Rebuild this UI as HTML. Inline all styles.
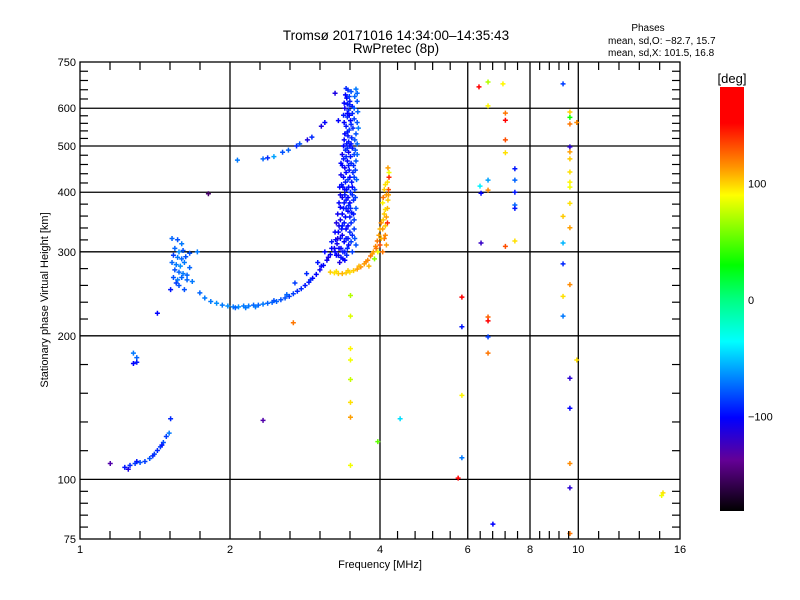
<!DOCTYPE html>
<html><head><meta charset="utf-8"><style>
html,body{margin:0;padding:0;background:#fff;}
svg{display:block;font-family:"Liberation Sans",sans-serif;}
</style></head><body>
<svg id="chart" width="800" height="600" viewBox="0 0 800 600" xmlns="http://www.w3.org/2000/svg">
<rect width="800" height="600" fill="#fff"/>
<text x="396" y="40" font-size="13.5" text-anchor="middle">Tromsø 20171016 14:34:00–14:35:43</text>
<text x="396" y="53" font-size="13.5" text-anchor="middle">RwPretec (8p)</text>
<text x="648" y="31" font-size="10" text-anchor="middle">Phases</text>
<text x="608" y="44" font-size="10">mean, sd,O: −82.7, 15.7</text>
<text x="608" y="56" font-size="10">mean, sd,X: 101.5, 16.8</text>
<g id="grid"></g>
<g id="marks"></g>
<rect x="80" y="62" width="600" height="477" fill="none" stroke="#000" stroke-width="1.3"/>
<g id="axes"></g>
<text x="380" y="568" font-size="11" text-anchor="middle">Frequency [MHz]</text>
<text x="0" y="0" font-size="11" text-anchor="middle" transform="translate(48,300) rotate(-90)">Stationary phase Virtual Height [km]</text>
<defs><linearGradient id="cbg" x1="0" y1="1" x2="0" y2="0">
<stop offset="0" stop-color="#000"/><stop offset="0.12" stop-color="#640096"/><stop offset="0.22" stop-color="#0000ff"/><stop offset="0.40" stop-color="#00ffff"/><stop offset="0.50" stop-color="#00ff80"/><stop offset="0.58" stop-color="#00ff00"/><stop offset="0.745" stop-color="#ffff00"/><stop offset="0.81" stop-color="#ff9600"/><stop offset="0.915" stop-color="#ff0000"/><stop offset="1" stop-color="#ff0000"/>
</linearGradient></defs>
<rect x="720" y="87" width="24" height="424" fill="url(#cbg)"/>
<text x="732" y="83" font-size="13" text-anchor="middle">[deg]</text>
<g id="cbticks"></g>
</svg>
<script>
const xTickLabels = [1, 2, 4, 6, 8, 10, 16];
const xGridValues = [2, 4, 6, 8, 10];
const yTickLabels = [75, 100, 200, 300, 400, 500, 600, 750];
const yGridValues = [100, 200, 300, 400, 500, 600];
const colorbarLabels = [100, 0, -100];
// points: [frequency MHz, virtual height km, phase deg]
const eTrace = [[1.23,106,-95],[1.26,107,-90],[1.29,108,-85],[1.32,108.5,-80],[1.35,109,-85],[1.38,110.6,-80],[1.41,113,-85],[1.43,115,-90],[1.45,117,-85],[1.47,119.5,-80],[1.49,123,-85],[1.51,125,-70],[1.52,134,-90],[1.15,108,-130],[1.25,105,-110],[1.28,184,-70],[1.30,180,-75],[1.28,175,-100],[1.30,176,-95],[1.30,109,-95],[1.40,112,-90],[1.46,118,-95]];
const esCluster = [[1.53,320,-75],[1.57,318,-80],[1.60,312,-70],[1.55,305,-75],[1.58,300,-65],[1.61,302,-80],[1.54,295,-85],[1.57,292,-70],[1.60,290,-75],[1.63,293,-80],[1.53,285,-75],[1.56,282,-70],[1.59,280,-65],[1.62,285,-70],[1.55,275,-80],[1.58,272,-75],[1.61,270,-70],[1.64,268,-75],[1.54,265,-80],[1.57,262,-70],[1.60,265,-75],[1.56,258,-85],[1.58,255,-80],[1.52,250,-95],[1.66,298,-80],[1.72,300,-70],[1.64,262,-75],[1.81,397,-150],[1.43,223,-100],[1.66,278,-75],[1.68,260,-70],[1.62,250,-80]];
const fTraceO = [[1.74,246,-75],[1.78,240,-70],[1.83,236,-70],[1.88,234,-65],[1.93,232,-70],[1.98,231,-65],[2.03,230,-70],[2.08,230,-65],[2.13,231,-70],[2.18,231,-70],[2.23,232,-75],[2.28,232,-75],[2.33,233,-70],[2.38,234,-75],[2.43,235,-75],[2.48,236,-75],[2.53,238,-80],[2.58,240,-80],[2.63,242,-85],[2.68,245,-85],[2.73,248,-90],[2.78,251,-90],[2.83,255,-95],[2.88,259,-95],[2.93,264,-100],[2.98,269,-100],[3.03,275,-105],[3.08,281,-100],[3.13,288,-105],[3.18,296,-100],[2.7,258,-85],[2.85,270,-90],[3.0,285,-95],[3.1,300,-100],[3.2,315,-95],[3.25,300,-100],[2.05,229,-75],[2.15,229,-70],[2.25,230,-70],[2.45,237,-80],[2.6,244,-75],[2.9,262,-90],[3.05,280,-100],[3.15,292,-110],[3.2,305,-100]];
const obliqueTrace = [[2.07,467,-70],[2.33,470,-75],[2.38,472,-90],[2.45,475,-60],[2.55,485,-80],[2.62,490,-75],[2.72,500,-90],[2.76,505,-80],[2.86,515,-110],[2.92,522,-90],[3.05,550,-110],[3.10,560,-100],[3.30,565,-100],[3.25,645,-110]];
const oCloud = [[3.45,655,-90],[3.50,650,-80],[3.58,658,-70],[3.60,645,-75],[3.43,630,-100],[3.48,620,-95],[3.60,620,-80],[3.40,600,-105],[3.46,595,-90],[3.52,605,-95],[3.61,590,-75],[3.44,575,-90],[3.49,565,-100],[3.60,560,-80],[3.42,550,-95],[3.47,540,-85],[3.62,545,-70],[3.40,530,-100],[3.45,525,-95],[3.51,520,-90],[3.58,530,-80],[3.43,505,-95],[3.48,500,-100],[3.60,505,-75],[3.41,490,-90],[3.46,485,-105],[3.55,480,-85],[3.38,470,-95],[3.44,465,-100],[3.50,460,-90],[3.58,465,-80],[3.40,450,-105],[3.47,445,-95],[3.53,440,-90],[3.38,430,-100],[3.45,425,-85],[3.51,420,-95],[3.59,425,-75],[3.37,410,-100],[3.43,405,-95],[3.49,400,-90],[3.56,405,-85],[3.36,390,-105],[3.42,385,-95],[3.48,380,-100],[3.54,385,-90],[3.38,370,-95],[3.45,365,-100],[3.51,362,-95],[3.58,370,-80],[3.33,350,-105],[3.39,345,-95],[3.45,340,-100],[3.50,345,-90],[3.30,330,-100],[3.36,325,-105],[3.42,320,-95],[3.48,330,-90],[3.55,335,-85],[3.28,312,-105],[3.34,305,-100],[3.40,300,-95],[3.46,310,-100],[3.30,295,-110],[3.37,290,-100],[3.41,640,-100],[3.47,610,-90],[3.44,585,-100],[3.50,555,-90],[3.46,510,-95],[3.42,475,-90],[3.48,430,-100],[3.40,395,-95],[3.46,375,-90],[3.41,355,-100],[3.35,335,-95],[3.43,295,-90],[3.52,300,-85],[3.32,285,-110],[3.44,612,-95],[3.52,585,-90],[3.39,515,-100],[3.52,495,-95],[3.36,455,-100],[3.54,455,-90],[3.35,415,-95],[3.52,410,-100],[3.33,372,-100],[3.54,360,-95],[3.31,340,-105],[3.26,318,-100]];
const oCloudDense = [[3.42,660,-90],[3.47,635,-85],[3.56,635,-75],[3.39,615,-100],[3.55,600,-80],[3.38,580,-95],[3.47,580,-100],[3.55,570,-85],[3.39,560,-100],[3.53,545,-90],[3.44,535,-95],[3.56,515,-80],[3.38,500,-100],[3.50,505,-95],[3.44,495,-90],[3.57,490,-80],[3.36,480,-105],[3.49,475,-95],[3.60,480,-75],[3.34,460,-100],[3.46,455,-95],[3.42,440,-100],[3.57,445,-85],[3.34,435,-105],[3.41,420,-95],[3.55,430,-85],[3.32,410,-100],[3.40,405,-100],[3.46,410,-95],[3.52,395,-90],[3.33,395,-105],[3.39,380,-95],[3.45,390,-100],[3.57,390,-85],[3.31,380,-100],[3.42,370,-95],[3.49,370,-90],[3.29,360,-105],[3.36,360,-100],[3.48,355,-95],[3.55,350,-85],[3.27,345,-110],[3.36,340,-95],[3.42,335,-100],[3.52,325,-90],[3.25,330,-100],[3.33,320,-95],[3.39,315,-100],[3.45,320,-95],[3.24,305,-105],[3.31,305,-100],[3.37,300,-95],[3.44,305,-90],[3.27,295,-100],[3.34,292,-95],[3.40,288,-100],[3.58,310,-80],[3.29,320,-110],[3.50,315,-85],[3.56,320,-80]];
const xTrace = [[3.18,272,100],[3.24,271,95],[3.30,270,100],[3.36,270,105],[3.42,271,100],[3.48,272,95],[3.54,274,100],[3.60,276,110],[3.66,279,115],[3.72,283,110],[3.78,288,115],[3.83,294,120],[3.88,300,110],[3.92,308,115],[3.95,316,120],[3.98,325,110],[4.00,335,105],[4.02,345,115],[4.05,335,110],[4.08,320,120],[4.10,340,100],[4.12,355,110],[4.14,370,105],[4.15,385,100],[4.12,395,110],[4.16,405,130],[4.14,420,95],[4.17,430,140],[4.10,415,95],[4.05,380,90],[4.08,360,100],[4.0,310,130],[4.1,325,115],[4.14,345,140],[4.17,440,85],[3.96,300,85],[3.90,290,60],[3.8,280,105],[4.05,300,120],[4.12,310,110],[3.27,273,95],[3.45,274,100],[3.63,280,105],[3.75,286,115],[3.86,297,110],[3.93,305,120],[4.02,320,105],[4.06,350,100],[4.10,368,95],[4.16,395,110],[4.08,405,100],[4.15,450,110],[4.06,390,120]];
const scatterLow = [[3.49,243,70],[3.49,220,80],[3.49,188,90],[3.49,178,85],[3.49,162,75],[3.49,145,95],[3.49,135,110],[3.49,107,85],[2.68,213,120],[4.39,134,-45],[3.96,120,50],[2.33,133,-130]];
const highFreq = [[6.32,665,150],[6.59,681,70],[7.06,675,90],[9.32,675,-85],[6.59,607,90],[7.14,586,120],[7.14,566,160],[7.14,515,130],[7.14,484,95],[7.46,448,-95],[7.46,424,-75],[7.46,400,-95],[7.46,376,-75],[7.46,370,-95],[6.59,424,-60],[6.35,412,-40],[6.38,398,-100],[6.59,404,115],[6.38,313,-120],[7.14,308,130],[7.46,316,95],[5.84,241,160],[9.62,589,100],[9.62,574,30],[9.62,556,120],[9.93,560,115],[9.62,498,-115],[9.62,486,110],[9.62,470,100],[9.62,441,95],[9.62,420,90],[9.62,410,85],[9.62,379,95],[9.32,356,100],[9.62,337,110],[9.32,313,-55],[9.32,283,-90],[9.62,256,115],[9.32,242,95],[6.59,219,125],[6.59,215,160],[5.84,209,-95],[6.59,199,-85],[6.59,184,120],[9.32,220,-70],[9.93,178,95],[9.62,163,-115],[5.84,150,90],[9.62,141,-100],[5.84,111,-70],[9.62,108,115],[5.74,100.6,160],[9.62,96,-115],[6.74,80.6,-100],[9.62,77,120],[14.79,93.7,95],[14.7,92.5,85]];

const X0=80, X1=680, Y0=62, Y1=539;
function xPos(f){return X0 + (X1-X0)*Math.log2(f)/4;}
function yPos(h){return Y1 - 477*Math.log10(h/75);}
function phaseY(p){return 300 - p*1.165;}
const cstops=[[-180,0,0,0],[-137,100,0,150],[-100,0,0,255],[-37,0,255,255],[0,0,255,128],[28,0,255,0],[88,255,255,0],[112,255,150,0],[150,255,0,0],[180,255,0,0]];
function color(p){
  if(p<=cstops[0][0]) return 'rgb(0,0,0)';
  for(let i=1;i<cstops.length;i++){
    if(p<=cstops[i][0]){const a=cstops[i-1],b=cstops[i],t=(p-a[0])/(b[0]-a[0]);
      return 'rgb('+[1,2,3].map(k=>Math.round(a[k]+(b[k]-a[k])*t)).join(',')+')';}
  }
  return 'rgb(255,0,0)';
}
const NS='http://www.w3.org/2000/svg';
function mk(tag,attrs,parent){const e=document.createElementNS(NS,tag);for(const k in attrs)e.setAttribute(k,attrs[k]);parent.appendChild(e);return e;}
const grid=document.getElementById('grid'), axes=document.getElementById('axes'), marks=document.getElementById('marks'), cbt=document.getElementById('cbticks');
xGridValues.forEach(v=>{const x=xPos(v);
  const l=mk('line',{x1:x,x2:x,y1:Y0,y2:Y1,stroke:'#000','stroke-width':1.3},grid);
  
  });
yGridValues.forEach(v=>{const y=yPos(v);
  const l=mk('line',{x1:X0,x2:X1,y1:y,y2:y,stroke:'#000','stroke-width':1.3},grid);
  
  });
for(let i=0;i<xTickLabels.length;i++){
  const x=xPos(xTickLabels[i]);
  const t=mk('text',{x:x,y:553,'font-size':11,'text-anchor':'middle'},axes);t.textContent=xTickLabels[i];
  
  
  if(i<xTickLabels.length-1){const xn=xPos(xTickLabels[i+1]);
    for(let k=1;k<5;k++){const xx=x+(xn-x)*k/5;
      const a=mk('line',{x1:xx,x2:xx,y1:Y1,y2:Y1-8,stroke:'#000','stroke-width':1.2},axes);
      
      
      const b=mk('line',{x1:xx,x2:xx,y1:Y0,y2:Y0+8,stroke:'#000','stroke-width':1.2},axes);
      
      }}
}
for(let i=0;i<yTickLabels.length;i++){
  const y=yPos(yTickLabels[i]);
  const t=mk('text',{x:76,y:y+4,'font-size':11,'text-anchor':'end'},axes);t.textContent=yTickLabels[i];
  
  
  if(i<yTickLabels.length-1){const yn=yPos(yTickLabels[i+1]);
    for(let k=1;k<5;k++){const yy=y+(yn-y)*k/5;
      const a=mk('line',{x1:X0,x2:X0+8,y1:yy,y2:yy,stroke:'#000','stroke-width':1.2},axes);
      
      
      const b=mk('line',{x1:X1-8,x2:X1,y1:yy,y2:yy,stroke:'#000','stroke-width':1.2},axes);
      
      }}
}
colorbarLabels.forEach(v=>{const t=mk('text',{x:748,y:phaseY(v)+4,'font-size':11},cbt);
  t.textContent=v<0?'−'+Math.abs(v):String(v);
  
  });
function plot(arr,name){arr.forEach(p=>{
  const x=xPos(p[0]),y=yPos(p[1]),c=color(p[2]);
  const g=mk('path',{d:`M${x-2.5} ${y}H${x+2.5}M${x} ${y-2.5}V${y+2.5}`,stroke:c,'stroke-width':1.5,fill:'none'},marks);
  
  });}
plot(eTrace,'e-trace-point');
plot(esCluster,'es-cluster-point');
plot(fTraceO,'f-trace-o-point');
plot(obliqueTrace,'oblique-trace-point');
plot(oCloud,'o-mode-point');
plot(oCloudDense,'o-mode-point');
plot(xTrace,'x-mode-point');
plot(scatterLow,'scatter-point');
plot(highFreq,'high-freq-point');
</script>
</body></html>
